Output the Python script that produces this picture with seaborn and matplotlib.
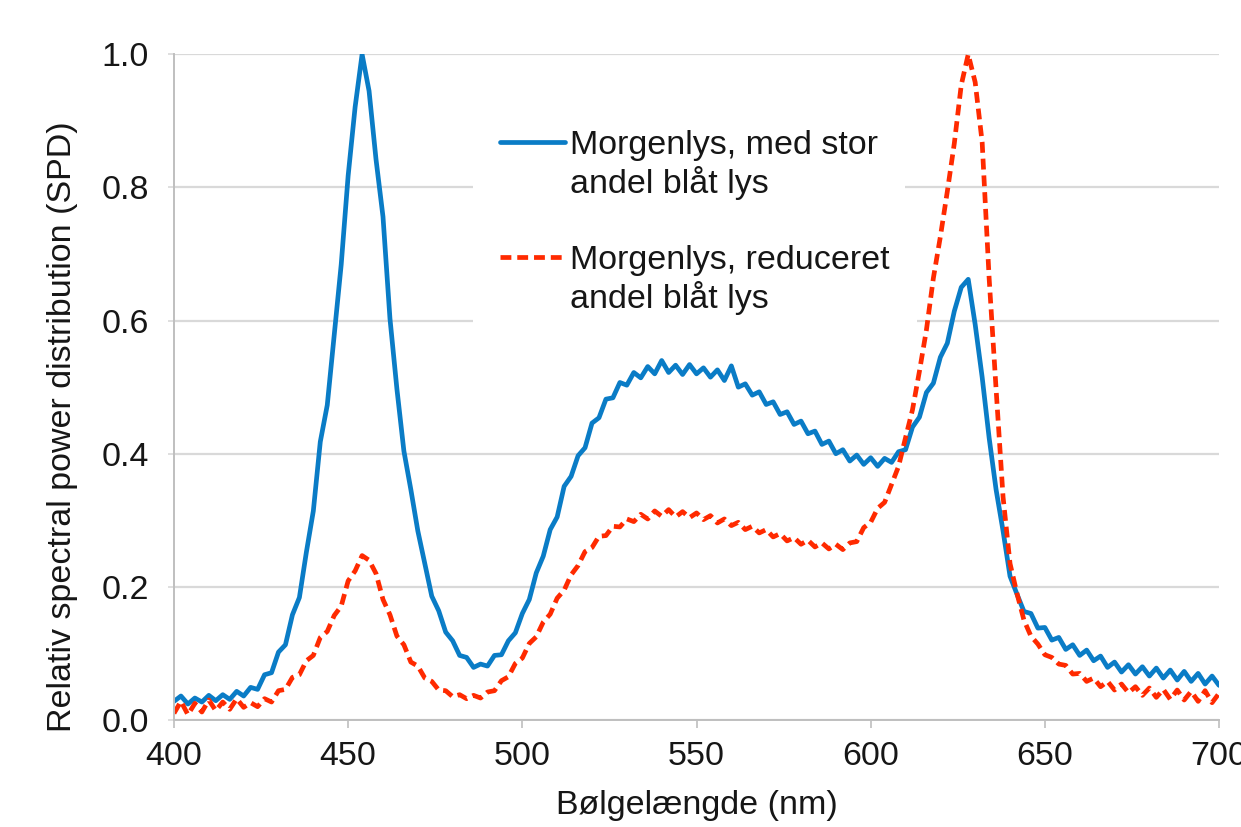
import numpy as np
import matplotlib
matplotlib.use("Agg")
import matplotlib.pyplot as plt
from matplotlib.lines import Line2D
import seaborn as sns

# wavelength grid (nm), values every 2 nm
wavelength = np.arange(400, 701, 2)

spd_high_blue = [
    0.028, 0.036, 0.024, 0.033, 0.027, 0.037, 0.029, 0.038, 0.031, 0.043,  # 400-418
    0.036, 0.049, 0.046, 0.068, 0.071, 0.102, 0.113, 0.158, 0.184, 0.252,  # 420-438
    0.314, 0.418, 0.473, 0.578, 0.684, 0.818, 0.921, 1.000, 0.945, 0.842,  # 440-458
    0.756, 0.603, 0.497, 0.404, 0.346, 0.284, 0.235, 0.186, 0.164, 0.132,  # 460-478
    0.119, 0.097, 0.094, 0.079, 0.084, 0.081, 0.097, 0.098, 0.119, 0.131,  # 480-498
    0.160, 0.181, 0.221, 0.246, 0.286, 0.305, 0.351, 0.366, 0.397, 0.409,  # 500-518
    0.446, 0.454, 0.482, 0.484, 0.507, 0.503, 0.522, 0.514, 0.531, 0.520,  # 520-538
    0.540, 0.522, 0.533, 0.519, 0.534, 0.520, 0.529, 0.515, 0.526, 0.510,  # 540-558
    0.532, 0.500, 0.505, 0.488, 0.493, 0.474, 0.478, 0.459, 0.463, 0.444,  # 560-578
    0.449, 0.430, 0.434, 0.414, 0.419, 0.400, 0.406, 0.389, 0.398, 0.384,  # 580-598
    0.394, 0.381, 0.393, 0.387, 0.403, 0.406, 0.440, 0.455, 0.492, 0.506,  # 600-618
    0.545, 0.566, 0.614, 0.650, 0.662, 0.594, 0.515, 0.424, 0.346, 0.284,  # 620-638
    0.216, 0.189, 0.163, 0.160, 0.138, 0.139, 0.120, 0.124, 0.106, 0.113,  # 640-658
    0.097, 0.105, 0.089, 0.096, 0.079, 0.087, 0.072, 0.083, 0.069, 0.080,  # 660-678
    0.066, 0.078, 0.063, 0.075, 0.060, 0.073, 0.058, 0.070, 0.054, 0.066,  # 680-698
    0.052,                                                                 # 700
]

spd_reduced_blue = [
    0.010, 0.028, 0.008, 0.025, 0.012, 0.030, 0.014, 0.027, 0.016, 0.032,  # 400-418
    0.019, 0.026, 0.020, 0.032, 0.027, 0.044, 0.046, 0.064, 0.068, 0.089,  # 420-438
    0.097, 0.124, 0.133, 0.157, 0.171, 0.209, 0.224, 0.247, 0.240, 0.220,  # 440-458
    0.181, 0.158, 0.126, 0.113, 0.087, 0.081, 0.063, 0.058, 0.045, 0.044,  # 460-478
    0.035, 0.038, 0.032, 0.037, 0.033, 0.042, 0.044, 0.059, 0.065, 0.085,  # 480-498
    0.093, 0.115, 0.125, 0.147, 0.159, 0.183, 0.195, 0.218, 0.232, 0.253,  # 500-518
    0.259, 0.276, 0.277, 0.291, 0.290, 0.302, 0.298, 0.309, 0.302, 0.314,  # 520-538
    0.306, 0.316, 0.305, 0.313, 0.304, 0.311, 0.301, 0.307, 0.296, 0.302,  # 540-558
    0.292, 0.297, 0.286, 0.291, 0.281, 0.286, 0.275, 0.280, 0.269, 0.274,  # 560-578
    0.264, 0.270, 0.260, 0.266, 0.257, 0.264, 0.256, 0.266, 0.268, 0.289,  # 580-598
    0.297, 0.318, 0.327, 0.354, 0.381, 0.424, 0.466, 0.524, 0.586, 0.664,  # 600-618
    0.726, 0.794, 0.866, 0.954, 1.000, 0.958, 0.868, 0.664, 0.497, 0.335,  # 620-638
    0.235, 0.190, 0.150, 0.126, 0.114, 0.098, 0.094, 0.084, 0.082, 0.069,  # 640-658
    0.070, 0.058, 0.063, 0.050, 0.058, 0.045, 0.054, 0.041, 0.050, 0.037,  # 660-678
    0.048, 0.034, 0.046, 0.031, 0.045, 0.030, 0.043, 0.028, 0.044, 0.026,  # 680-698
    0.040,                                                                 # 700
]

label_high = ["Morgenlys, med stor", "andel blåt lys"]
label_reduced = ["Morgenlys, reduceret", "andel blåt lys"]
x_ticks = [400, 450, 500, 550, 600, 650, 700]
y_ticks = [0.0, 0.2, 0.4, 0.6, 0.8, 1.0]

BLUE = "#0a7cc6"
RED = "#ff2a00"
GRID = "#d9d9d9"
TEXT = "#161616"
LW = 3.4
RED_DASH = (2.3, 1.25)
FS = 24.5

sns.set_theme(style="white")
plt.rcParams["font.family"] = ["Liberation Sans", "DejaVu Sans"]

fig = plt.figure(figsize=(12.41, 8.27), dpi=100)
ax = fig.add_axes([0.1402, 0.1294, 0.8421, 0.8049])

sns.lineplot(x=wavelength, y=spd_high_blue, color=BLUE, linewidth=LW, ax=ax)
sns.lineplot(x=wavelength, y=spd_reduced_blue, color=RED, linewidth=LW, ax=ax)
ax.lines[-1].set_dashes(RED_DASH)

ax.set_xlim(400, 700)
ax.set_ylim(0, 1.0)
ax.set_xticks(x_ticks)
ax.set_yticks(y_ticks)
ax.set_yticklabels([f"{v:.1f}" for v in y_ticks])

ax.yaxis.grid(True, color=GRID, linewidth=1.6)
ax.xaxis.grid(False)
ax.set_axisbelow(True)
for side in ["top", "right"]:
    ax.spines[side].set_visible(False)
for side in ["left", "bottom"]:
    ax.spines[side].set_color("#bfbfbf")
    ax.spines[side].set_linewidth(1.4)

ax.tick_params(axis="x", bottom=True, length=6, width=1.2, color="#bfbfbf",
               pad=9, labelsize=FS, labelcolor=TEXT)
ax.tick_params(axis="y", left=True, length=4, width=1.2, color=GRID,
               pad=14, labelsize=FS, labelcolor=TEXT)

ax.set_xlabel("Bølgelængde (nm)", fontsize=FS, color=TEXT, labelpad=13)
ax.set_ylabel("Relativ spectral power distribution (SPD)", fontsize=FS, color=TEXT)
ax.yaxis.set_label_coords(-0.092, 0.441)

# legend: handle on the first line of each two-line label
legend_kw = dict(loc="upper left", fontsize=FS, handlelength=1.9,
                 handletextpad=0.15, labelspacing=0.15, borderpad=0.8,
                 borderaxespad=0, frameon=True, fancybox=False,
                 framealpha=1, facecolor="white", edgecolor="none",
                 labelcolor=TEXT)
blank = Line2D([], [], color="none")
leg1 = ax.legend([Line2D([], [], color=BLUE, lw=LW), blank], label_high,
                 bbox_to_anchor=(0.286, 0.927), **legend_kw)
ax.add_artist(leg1)
ax.legend([Line2D([], [], color=RED, lw=LW, dashes=RED_DASH), blank], label_reduced,
          bbox_to_anchor=(0.286, 0.754), **legend_kw)

fig.savefig("out.png", dpi=100)
